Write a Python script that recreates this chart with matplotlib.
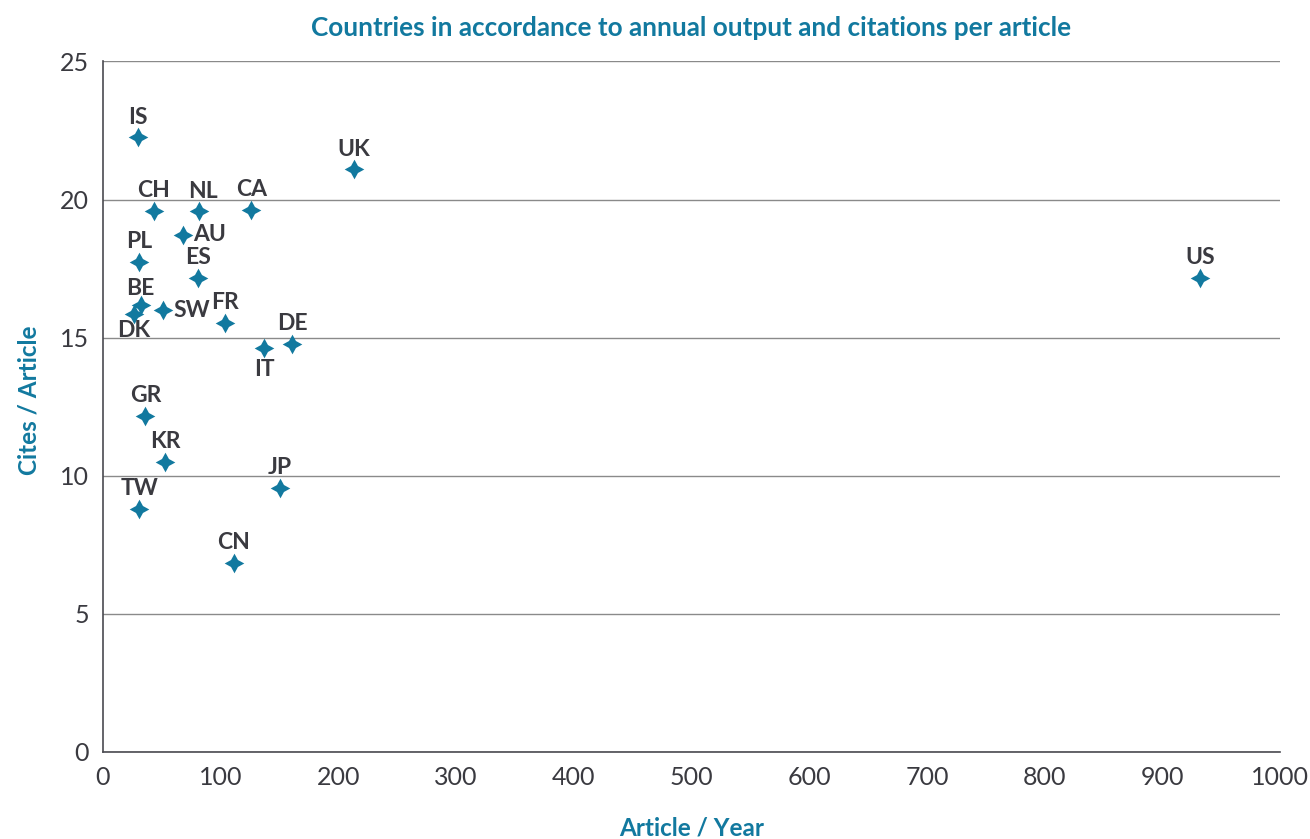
import matplotlib
matplotlib.use("Agg")
import matplotlib.pyplot as plt

# data
countries = ["IS", "UK", "CH", "NL", "CA", "AU", "PL", "ES", "US", "BE",
             "DK", "SW", "FR", "DE", "IT", "GR", "KR", "JP", "TW", "CN"]
articles_per_year = [30, 213, 43, 82, 126, 68, 31, 81, 932, 32,
                     26, 51, 104, 161, 137, 36, 53, 150, 31, 111]
cites_per_article = [22.25, 21.1, 19.6, 19.57, 19.64, 18.73, 17.75, 17.17, 17.17, 16.2,
                     15.87, 16.0, 15.55, 14.78, 14.64, 12.17, 10.5, 9.57, 8.8, 6.85]

# label placement (pixel offsets, alignment)
label_pos = {
    "AU": (10, 0, "left", "center"),
    "SW": (10, 0, "left", "center"),
    "DK": (0, -17, "center", "center"),
    "IT": (0, -22, "center", "center"),
    "BE": (0, 16, "center", "center"),
    "NL": (3, 20, "center", "center"),
}

teal = "#12799f"
dark = "#3a3a40"
plt.rcParams["font.family"] = ["Lato", "DejaVu Sans"]

fig = plt.figure(figsize=(13.1, 8.39), dpi=100)
ax = fig.add_axes([0.0786, 0.1037, 0.8985, 0.823])

ax.scatter(articles_per_year, cites_per_article, marker=(4, 1, 0), s=200,
           color=teal, zorder=3, linewidths=0)

for name, x, y in zip(countries, articles_per_year, cites_per_article):
    dx, dy, ha, va = label_pos.get(name, (0, 20, "center", "center"))
    ax.annotate(name, (x, y), xytext=(dx, dy), textcoords="offset pixels",
                ha=ha, va=va, fontsize=16.5, fontweight="bold", color=dark, zorder=4)

ax.set_xlim(0, 1000)
ax.set_ylim(0, 25)
ax.set_xticks(range(0, 1001, 100))
ax.set_yticks(range(0, 26, 5))
ax.yaxis.grid(True, color="#8a8a8a", linewidth=1)
ax.set_axisbelow(True)
for side in ["top", "right"]:
    ax.spines[side].set_visible(False)
for side in ["left", "bottom"]:
    ax.spines[side].set_color("#4a4a50")
    ax.spines[side].set_linewidth(1.2)
ax.tick_params(length=0, labelsize=18, colors="#3a3a40", pad=10)

ax.set_title("Countries in accordance to annual output and citations per article",
             fontsize=18.8, fontweight="bold", color=teal, pad=18)
ax.set_xlabel("Article / Year", fontsize=17.5, fontweight="bold", color=teal, labelpad=20)
ax.set_ylabel("Cites / Article", fontsize=17.5, fontweight="bold", color=teal)
ax.yaxis.set_label_coords(-0.053, 0.51)

fig.savefig("out.png", dpi=100)
